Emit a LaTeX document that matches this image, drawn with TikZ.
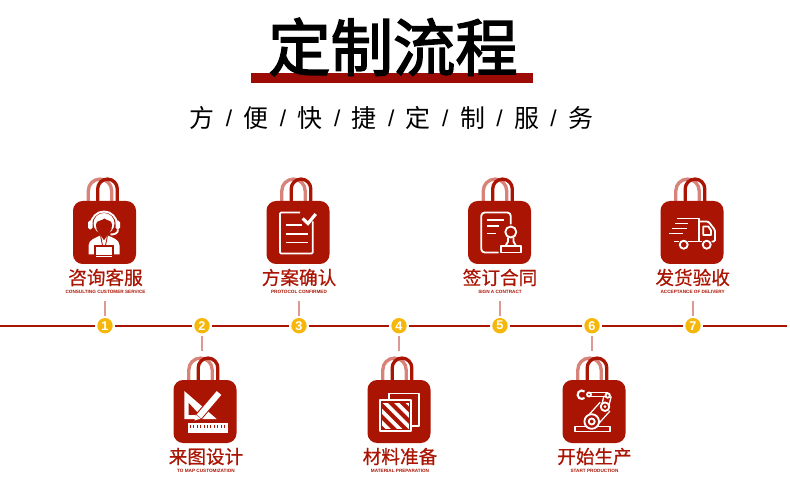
\documentclass[tikz,border=0pt]{standalone}
\usepackage{fontspec}
\setmainfont{Liberation Sans}
\newfontfamily\cjk{Noto Sans CJK SC}
\newfontfamily\cjkhead[FakeBold=2.4]{Noto Sans CJK SC}
\newfontfamily\cjklabel[FakeBold=0.6]{Noto Sans CJK SC}
\definecolor{bagred}{HTML}{AA1403}
\definecolor{handlepale}{HTML}{D8837A}
\definecolor{barred}{HTML}{9C0B06}
\definecolor{tickpale}{HTML}{DD9A94}
\definecolor{coin}{HTML}{F6B70D}
\tikzset{
    bag/.pic={
        \draw[handlepale, line width=1.9pt] (-16.2,-31) -- (-16.2,-41.7) arc[start angle=180, end angle=360, radius=11.7] -- (7.2,-31);
        \draw[bagred, line width=1.9pt] (-6.8,-31) -- (-6.8,-43.6) arc[start angle=180, end angle=360, radius=9.8] -- (12.8,-31);
        \fill[bagred, rounded corners=5.5pt] (-31.5,-31.5) rectangle (31.5,31.5);
    },
    iconline/.style={draw=white, line width=1.05pt, line join=round},
    titlecn/.style={font=\cjklabel\fontsize{10.6}{12}\selectfont, text=bagred, inner sep=0pt},
    titleen/.style={font=\bfseries\fontsize{2.65}{3}\selectfont, text=bagred, inner sep=0pt},
    numdot/.style={circle, fill=coin, text=white, inner sep=0pt, minimum size=8.8pt, outer sep=1.2pt, font=\bfseries\fontsize{7.2}{8}\selectfont},
    timeline/.style={bagred, line width=1.2pt},
    tick/.style={tickpale, line width=0.8pt},
}
\begin{document}
\begin{tikzpicture}[x=0.02cm, y=-0.02cm]
    \useasboundingbox (0,0) rectangle (790,489);

    % Heading
    \fill[barred] (251,73) rectangle (533,83);
    \node[inner sep=0pt, font=\cjkhead\fontsize{35.5}{40}\selectfont] (heading) at (393,47) {定制流程};
    \foreach \i/\ch in {0/方,1/便,2/快,3/捷,4/定,5/制,6/服,7/务} {
        \node[inner sep=0pt, font=\cjk\fontsize{14.2}{16}\selectfont] (sub\i) at (202+54.1*\i,118) {\ch};
    }
    \foreach \i in {0,...,6} {
        \node[inner sep=0pt, font=\fontsize{13}{15}\selectfont] (slash\i) at (229+54.1*\i,118) {/};
    }

    % Time line
    \coordinate (lineL) at (0,325.7);
    \coordinate (lineR) at (787,325.7);
    \foreach \i/\x in {1/105,2/202,3/299,4/399,5/500,6/592,7/693} {
        \node[numdot] (num\i) at (\x,325.7) {\i};
    }
    \draw[timeline] (lineL) -- (num1);
    \foreach \i/\j in {1/2,2/3,3/4,4/5,5/6,6/7} {
        \draw[timeline] (num\i) -- (num\j);
    }
    \draw[timeline] (num7) -- (lineR);

    % Ticks
    \foreach \i/\x in {1/105,3/299,5/500,7/693} {
        \coordinate (end\i) at (\x,300.7);
        \draw[tick] (num\i) -- (end\i);
    }
    \foreach \i/\x in {2/202,4/399,6/592} {
        \coordinate (end\i) at (\x,351);
        \draw[tick] (num\i) -- (end\i);
    }

    % Labels
    \foreach \i/\x/\cn/\en in {1/105.5/咨询客服/CONSULTING CUSTOMER SERVICE, 3/299/方案确认/PROTOCOL CONFIRMED, 5/500/签订合同/SIGN A CONTRACT, 7/692.7/发货验收/ACCEPTANCE OF DELIVERY} {
        \node[titlecn] (cn\i) at (\x,277.5) {\cn};
        \node[titleen] (en\i) at (\x,292) {\en};
    }
    \foreach \i/\x/\cn/\en in {2/206/来图设计/TO MAP CUSTOMIZATION, 4/400/材料准备/MATERIAL PREPARATION, 6/594.5/开始生产/START PRODUCTION} {
        \node[titlecn] (cn\i) at (\x,456.5) {\cn};
        \node[titleen] (en\i) at (\x,471) {\en};
    }

    % Headset person
    \begin{scope}[shift={(104.5,232.5)}]
        \pic {bag};
        \fill[white, rounded corners=1pt] (-16.5,-12) rectangle (-12,-3);
        \fill[white, rounded corners=1pt] (11,-12) rectangle (15.5,-3);
        \draw[white, line width=1.1pt] (-13.5,-8) arc[start angle=180, end angle=360, radius=13];
        \draw[iconline] (13.5,-3) .. controls (13.5,1) and (10,2) .. (6,2);
        \fill[white] (-0.5,-9) circle (10.5);
        \fill[bagred] (-8.5,-8) .. controls (-8,-13) and (-3,-11) .. (0,-14) .. controls (3,-11) and (7,-13) .. (7.5,-8) .. controls (8,-1) and (3.5,2.5) .. (-0.5,2.5) .. controls (-4.5,2.5) and (-9,-1) .. (-8.5,-8) -- cycle;
        \fill[white] (-16,22) -- (-16,13) .. controls (-16,7) and (-8,5) .. (-4,3) -- (-0.5,8) -- (3,3) .. controls (8,5) and (15,7) .. (15,13) -- (15,22) -- cycle;
        \draw[bagred, line width=0.5pt] (-4,3) -- (-2,13);
        \draw[bagred, line width=0.5pt] (3,3) -- (1,13);
        \filldraw[fill=white, draw=bagred, line width=0.8pt] (-9.5,13.5) rectangle (8.5,25);
        \draw[bagred, line width=0.5pt] (-9.5,22.5) -- (8.5,22.5);
    \end{scope}

    % Document with check
    \begin{scope}[shift={(298,232.5)}]
        \pic {bag};
        \draw[iconline, rounded corners=0.6pt] (2,-20) -- (-18,-20) -- (-18,21) -- (14.7,21) -- (14.7,-11);
        \draw[white, line width=1.8pt] (4.7,-14) -- (10,-9) -- (17.7,-18.5);
        \draw[white, line width=1.1pt] (-12.3,-7.5) -- (3.7,-7.5);
        \draw[white, line width=1.1pt] (-12.3,1.5) -- (10.3,1.5);
        \draw[white, line width=1.1pt] (-12.3,10) -- (10.3,10);
    \end{scope}

    % Contract and stamp
    \begin{scope}[shift={(499.5,232.5)}]
        \pic {bag};
        \draw[iconline, rounded corners=2pt] (-1,20) -- (-18.3,20) -- (-18.3,-20) -- (11.3,-20) -- (11.3,-8);
        \draw[white, line width=1pt] (-12.7,-12.5) -- (4.7,-12.5);
        \draw[white, line width=1pt] (-12.7,-6.5) -- (-1,-6.5);
        \draw[white, line width=1pt] (-12.7,1) -- (-3.3,1);
        \draw[iconline] (11.3,-0.5) circle (5.5);
        \draw[iconline] (8.5,5) -- (8.5,9) -- (6,13.5);
        \draw[iconline] (14,5) -- (14,9) -- (16.5,13.5);
        \draw[iconline] (1.7,13.5) rectangle (21.3,20);
    \end{scope}

    % Truck
    \begin{scope}[shift={(692,232.5)}]
        \pic {bag};
        \draw[iconline] (-15.3,-14) -- (7,-14) -- (7,9);
        \draw[iconline] (-3.7,9) -- (10.3,9);
        \draw[iconline] (-18,9) -- (-12.7,9);
        \draw[iconline, rounded corners=0.8pt] (7,-11) -- (16.3,-11) -- (23,-2.5) -- (23,9) -- (19.5,9);
        \draw[iconline] (11.3,-6) -- (16.3,-6) -- (19,-2) -- (19,2.5) -- (11.3,2.5) -- cycle;
        \draw[iconline] (-8.3,12.2) circle (4);
        \draw[iconline] (14.7,12.2) circle (4);
        \draw[white, line width=1pt] (-17,-9) -- (-3.7,-9);
        \draw[white, line width=1pt] (-20,-4) -- (-5.3,-4);
        \draw[white, line width=1pt] (-22.7,1) -- (-8.7,1);
    \end{scope}

    % Set square, pencil and ruler
    \begin{scope}[shift={(205,411.5)}]
        \pic {bag};
        \fill[white, even odd rule] (-20.7,-20.5) -- (-20.7,7.5) -- (11.7,7.5) -- cycle (-16.5,-9) -- (-16.5,3.5) -- (-5,3.5) -- cycle;
        \draw[bagred, line width=4.6pt] (14,-18.5) -- (-7,6);
        \draw[white, line width=3.4pt] (14,-18.5) -- (-6,5);
        \fill[white] (-9.5,3) -- (-4.5,7) -- (-10.5,9) -- cycle;
        \fill[white] (-17,11.8) rectangle (23,21.5);
        \foreach \k in {0,...,10} {
            \draw[bagred, line width=0.5pt] (-14.5+3.4*\k,13) -- (-14.5+3.4*\k,16.5);
        }
    \end{scope}

    % Hatched sheets
    \begin{scope}[shift={(399,411.5)}]
        \pic {bag};
        \draw[iconline] (-10,-11.5) -- (-10,-18) -- (20,-18) -- (20,14.5) -- (12.3,14.5);
        \begin{scope}
            \clip (-17,-9) rectangle (10,17);
            \fill[white] (-17,-9) rectangle (10,17);
            \foreach \k in {0,...,5} {
                \draw[bagred, line width=2.4pt] (-46+11.5*\k,-12) -- (-14+11.5*\k,20);
            }
        \end{scope}
        \draw[iconline] (-19.3,-11.5) rectangle (12.3,19.2);
    \end{scope}

    % Robot arm
    \begin{scope}[shift={(594,411.5)}]
        \pic {bag};
        \draw[iconline] (-19,15) rectangle (16,20);
        % lower limb
        \draw[white, line width=8.2pt] (-2.3,10) -- (11,-4.8);
        \draw[bagred, line width=6.6pt] (-2.3,10) -- (11,-4.8);
        % upper limb
        \draw[white, line width=4.8pt] (11,-4.8) -- (13.7,-16);
        \draw[bagred, line width=3.2pt] (11,-4.8) -- (13.7,-16);
        % forearm
        \draw[white, line width=3pt] (14,-17) -- (-6,-17);
        \draw[bagred, line width=1.4pt] (14,-17) -- (-6,-17);
        \filldraw[fill=bagred, iconline] (-2.3,10) circle (7.3);
        \draw[iconline] (-2.3,10) circle (3);
        \filldraw[fill=bagred, iconline] (11,-4.8) circle (4.3);
        \fill[white] (11,-4.8) circle (1.5);
        \filldraw[fill=bagred, iconline] (13.7,-16) circle (2.2);
        \filldraw[fill=bagred, iconline] (-5,-17) circle (2);
        \draw[white, line width=1.2pt] (-9.5,-20) arc[start angle=-50, end angle=-310, radius=4.2];
    \end{scope}
\end{tikzpicture}
\end{document}
